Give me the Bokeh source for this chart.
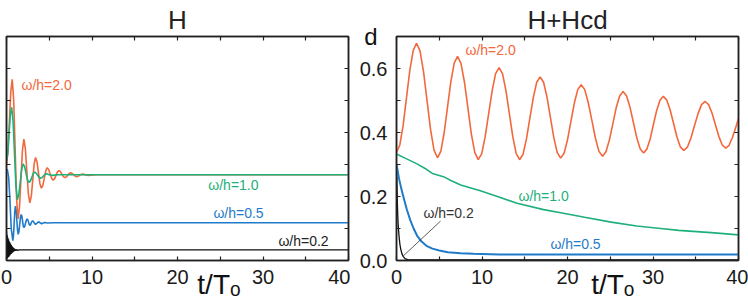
from bokeh.plotting import figure
from bokeh.layouts import row
from bokeh.models import Range1d, LinearAxis, FixedTicker, PrintfTickFormatter, Label
from bokeh.embed import file_html
from bokeh.resources import INLINE

# ---------------- data ----------------
# Left panel "H"
h20_t = [0, 0.17, 0.335, 0.50, 0.67, 0.84, 1.01, 1.18, 1.35, 1.52, 1.69, 1.86, 2.03, 2.205, 2.38, 2.555,
         2.73, 2.9, 3.07, 3.23, 3.4, 3.57, 3.74, 3.91, 4.08, 4.25, 4.43, 4.6, 4.77, 4.94, 5.11, 5.28,
         5.45, 5.62, 5.79, 5.96, 6.13, 6.3, 6.48, 6.65, 6.82, 6.99, 7.16, 7.33, 7.5, 7.68, 7.85, 8.03,
         8.2, 8.37, 8.54, 8.71, 8.88, 9.56, 10.5, 40]
h20_v = [0.300, 0.339, 0.433, 0.527, 0.566, 0.502, 0.348, 0.194, 0.130, 0.166, 0.255, 0.343, 0.379,
         0.350, 0.279, 0.208, 0.180, 0.201, 0.251, 0.301, 0.322, 0.308, 0.274, 0.240, 0.226, 0.235,
         0.258, 0.281, 0.290, 0.284, 0.270, 0.257, 0.251, 0.255, 0.266, 0.277, 0.281, 0.278, 0.270,
         0.262, 0.259, 0.261, 0.266, 0.272, 0.274, 0.272, 0.268, 0.264, 0.262, 0.263, 0.266, 0.269,
         0.270, 0.266, 0.268, 0.268]

h10_t = [0, 0.15, 0.30, 0.45, 0.60, 0.77, 0.935, 1.10, 1.27, 1.44, 1.61, 1.78, 1.95, 2.12, 2.285, 2.45,
         2.62, 2.79, 2.96, 3.13, 3.30, 3.47, 3.64, 3.81, 3.98, 4.15, 4.32, 4.49, 4.66, 5.0, 5.35, 6.0, 40]
h10_v = [0.310, 0.335, 0.396, 0.456, 0.479, 0.436, 0.335, 0.233, 0.190, 0.206, 0.246, 0.286, 0.302,
         0.293, 0.273, 0.252, 0.244, 0.248, 0.260, 0.272, 0.276, 0.273, 0.2665, 0.260, 0.257, 0.259,
         0.264, 0.269, 0.271, 0.268, 0.266, 0.268, 0.268]

h05_t = [0, 0.1, 0.25, 0.4, 0.55, 0.74, 0.8175, 0.895, 0.9725, 1.05, 1.13, 1.21, 1.29, 1.37, 1.4575,
         1.545, 1.6325, 1.72, 1.80, 1.875, 1.95, 2.03, 2.13, 2.225, 2.32, 2.42, 2.50, 2.575, 2.65, 2.73,
         2.81, 2.89, 2.97, 3.05, 3.14, 3.225, 3.31, 3.4, 3.57, 3.75, 3.92, 4.1, 4.45, 4.8, 5.5, 40]
h05_v = [0.282, 0.285, 0.260, 0.190, 0.100, 0.062, 0.078, 0.116, 0.154, 0.170, 0.157, 0.126, 0.095,
         0.082, 0.091, 0.113, 0.135, 0.144, 0.138, 0.1235, 0.109, 0.103, 0.107, 0.1165, 0.126, 0.130,
         0.127, 0.120, 0.113, 0.110, 0.112, 0.117, 0.122, 0.124, 0.122, 0.1185, 0.115, 0.113, 0.117,
         0.121, 0.118, 0.115, 0.119, 0.117, 0.118, 0.118]

h02_t = [0.00, 0.04, 0.08, 0.12, 0.16, 0.20, 0.24, 0.28, 0.32, 0.36, 0.40, 0.44, 0.48, 0.52, 0.56,
         0.60, 0.64, 0.68, 0.72, 0.76, 0.80, 0.84, 0.88, 0.92, 0.96, 1.00, 1.04, 1.08, 1.15, 1.25, 1.5, 40]
h02_v = [0.090, 0.005, 0.080, 0.008, 0.072, 0.010, 0.066, 0.012, 0.060, 0.015, 0.056, 0.018, 0.052,
         0.020, 0.048, 0.022, 0.045, 0.024, 0.042, 0.026, 0.040, 0.028, 0.038, 0.029, 0.036, 0.030,
         0.035, 0.031, 0.034, 0.032, 0.033, 0.033]

# Right panel "H+Hcd"
c20_t = [0, 0.39, 0.78, 1.17, 1.56, 1.95, 2.34, 2.75, 3.16, 3.57, 3.98, 4.39, 4.8, 5.19, 5.58, 5.97,
         6.36, 6.75, 7.14, 7.54, 7.95, 8.35, 8.75, 9.16, 9.56, 9.97, 10.37, 10.78, 11.19, 11.59, 12.0,
         12.4, 12.8, 13.2, 13.6, 14.0, 14.4, 14.8, 15.2, 15.6, 16.0, 16.4, 16.8, 17.2, 17.6, 18.0, 18.4,
         18.8, 19.2, 19.6, 20.0, 20.4, 20.8, 21.2, 21.6, 22.02, 22.43, 22.85, 23.27, 23.68, 24.1, 24.5,
         24.9, 25.3, 25.7, 26.1, 26.5, 26.9, 27.3, 27.7, 28.1, 28.5, 28.9, 29.28, 29.67, 30.05, 30.43,
         30.82, 31.2, 31.6, 32.0, 32.4, 32.8, 33.2, 33.6, 34.02, 34.43, 34.85, 35.27, 35.68, 36.1, 36.5,
         36.9, 37.3, 37.7, 38.1, 38.5, 38.9, 39.3, 39.7, 40.0]
c20_v = [0.338, 0.361, 0.423, 0.509, 0.594, 0.656, 0.679, 0.655, 0.590, 0.500, 0.410, 0.345, 0.321,
         0.342, 0.400, 0.480, 0.559, 0.617, 0.638, 0.616, 0.557, 0.477, 0.396, 0.337, 0.315, 0.334,
         0.387, 0.459, 0.531, 0.584, 0.603, 0.584, 0.531, 0.459, 0.387, 0.334, 0.315, 0.332, 0.380,
         0.445, 0.509, 0.557, 0.574, 0.557, 0.511, 0.447, 0.384, 0.337, 0.320, 0.335, 0.377, 0.435,
         0.492, 0.534, 0.549, 0.534, 0.493, 0.438, 0.382, 0.341, 0.326, 0.340, 0.377, 0.427, 0.478,
         0.514, 0.528, 0.515, 0.480, 0.432, 0.384, 0.349, 0.336, 0.348, 0.380, 0.425, 0.469, 0.501,
         0.513, 0.502, 0.471, 0.429, 0.386, 0.355, 0.344, 0.354, 0.382, 0.421, 0.459, 0.487, 0.497,
         0.487, 0.461, 0.424, 0.388, 0.361, 0.351, 0.360, 0.385, 0.418, 0.444]

c10_t = [0, 1, 2.4, 3.5, 4.2, 5.5, 6.3, 7.5, 8.5, 9.8, 11.8, 14.1, 17.2, 19.2, 22, 25.1, 28.1, 30.9,
         33, 36.8, 40]
c10_v = [0.333, 0.320, 0.302, 0.285, 0.272, 0.262, 0.251, 0.236, 0.228, 0.218, 0.200, 0.179, 0.159,
         0.149, 0.135, 0.120, 0.108, 0.100, 0.094, 0.087, 0.080]

c05_t = [0, 0.3, 0.6, 0.9, 1.2, 1.6, 2.0, 2.4, 2.9, 3.5, 4.2, 5.0, 6.0, 7.5, 9.0, 12, 40]
c05_v = [0.302, 0.255, 0.220, 0.190, 0.160, 0.127, 0.100, 0.078, 0.060, 0.046, 0.037, 0.031, 0.026,
         0.023, 0.021, 0.019, 0.019]

c02_t = [0, 0.05, 0.1, 0.15, 0.2, 0.3, 0.4, 0.5, 0.65, 0.8, 1.0, 1.3, 1.8, 40]
c02_v = [0.30, 0.24, 0.18, 0.14, 0.11, 0.075, 0.05, 0.035, 0.02, 0.012, 0.006, 0.003, 0.002, 0.002]

# ticks / axis texts
x_major_ticks = [0, 10, 20, 30, 40]
x_minor_ticks = [5, 15, 25, 35]
y_major_ticks = [0.0, 0.2, 0.4, 0.6]
y_minor_ticks = [0.1, 0.3, 0.5]
y_name = "d"
y_name_at = 0.7
x_name = "t/T\u2092"
panel_titles = ["H", "H+Hcd"]

# ---------------- styling ----------------
FONT = "Liberation Sans"
ORANGE = "#F2683C"
GREEN = "#1DB07A"
BLUE = "#1F7BC9"
BLACK = "#111111"
FRAME = "#222222"
H = 305
TOP = 32
FRAME_H = 228


def style_axis(ax, show_labels, fmt=None):
    ax.axis_line_color = FRAME
    ax.axis_line_width = 1.5
    ax.major_tick_in = 4
    ax.major_tick_out = 0
    ax.minor_tick_in = 4
    ax.minor_tick_out = 0
    ax.major_tick_line_color = FRAME
    ax.minor_tick_line_color = FRAME
    ax.major_tick_line_width = 1.2
    ax.minor_tick_line_width = 1.2
    if fmt is not None:
        ax.formatter = fmt
    if show_labels:
        ax.major_label_text_font = FONT
        ax.major_label_text_font_size = "20px"
        ax.major_label_text_color = "#1a1a1a"
        ax.major_label_standoff = 9
    else:
        ax.major_label_standoff = 0


def labelled_ticker(major, minor):
    return FixedTicker(ticks=major, minor_ticks=minor)


def bare_ticker(major, minor):
    # all tick marks as minor ticks -> marks only, no tick texts
    return FixedTicker(ticks=[], minor_ticks=sorted(major + minor))


def name_axis(at, text, size, standoff):
    # a tick-less axis that only carries one text (the axis name)
    ax = LinearAxis(ticker=FixedTicker(ticks=[at], minor_ticks=[]),
                    major_label_overrides={at: text})
    ax.axis_line_color = None
    ax.major_tick_line_color = None
    ax.minor_tick_line_color = None
    ax.major_tick_in = 0
    ax.major_tick_out = 0
    ax.major_label_text_font = FONT
    ax.major_label_text_font_size = size
    ax.major_label_text_color = "#111111"
    ax.major_label_standoff = standoff
    return ax


def make_fig(width, left_border, right_border, ylabels, title, xname_at):
    p = figure(width=width, height=H, x_range=Range1d(0, 40), y_range=Range1d(0, 0.7),
               output_backend="svg", toolbar_location=None, title=title,
               min_border_left=left_border, min_border_right=right_border, min_border_top=TOP,
               min_border_bottom=H - TOP - FRAME_H)
    p.title.align = "center"
    p.title.text_font = FONT
    p.title.text_font_size = "26px"
    p.title.text_font_style = "normal"
    p.title.text_color = "#222222"
    p.title.standoff = 4
    p.grid.visible = False
    p.outline_line_color = FRAME
    p.outline_line_width = 1.5
    p.background_fill_color = "white"
    p.border_fill_color = "white"
    p.xaxis[0].ticker = labelled_ticker(x_major_ticks, x_minor_ticks)
    style_axis(p.xaxis[0], True)
    if ylabels:
        p.yaxis[0].ticker = labelled_ticker(y_major_ticks, y_minor_ticks)
        style_axis(p.yaxis[0], True, PrintfTickFormatter(format="%.1f"))
    else:
        p.yaxis[0].ticker = bare_ticker(y_major_ticks, y_minor_ticks)
        style_axis(p.yaxis[0], False)
    top = LinearAxis(ticker=bare_ticker(x_major_ticks, x_minor_ticks))
    style_axis(top, False)
    p.add_layout(top, "above")
    right = LinearAxis(ticker=bare_ticker(y_major_ticks, y_minor_ticks))
    style_axis(right, False)
    p.add_layout(right, "right")
    p.add_layout(name_axis(xname_at, x_name, "28px", -18), "below")
    if ylabels:
        p.add_layout(name_axis(y_name_at, y_name, "24px", -21), "left")
    return p


def lab(p, x, y, text, color, size="14px", align="left", baseline="middle"):
    p.add_layout(Label(x=x, y=y, text=text, text_font=FONT, text_font_size=size,
                       text_color=color, text_align=align, text_baseline=baseline))


# ---------------- left panel ----------------
p1 = make_fig(350, 6, 2, False, panel_titles[0], 24.85)
p1.line(h02_t, h02_v, color=BLACK, line_width=1.3)
p1.line(h05_t, h05_v, color=BLUE, line_width=1.6)
p1.line(h20_t, h20_v, color=ORANGE, line_width=1.6)
p1.line(h10_t, h10_v, color=GREEN, line_width=1.6)
lab(p1, 1.75, 0.55, "ω/h=2.0", ORANGE)
lab(p1, 23.6, 0.236, "ω/h=1.0", GREEN)
lab(p1, 24.2, 0.147, "ω/h=0.5", BLUE)
lab(p1, 31.8, 0.061, "ω/h=0.2", "#222222")

# ---------------- right panel ----------------
p2 = make_fig(398, 46, 10, True, panel_titles[1], 25.3)
p2.line(c02_t, c02_v, color=BLACK, line_width=1.3)
p2.line(c05_t, c05_v, color=BLUE, line_width=2.0)
p2.line(c10_t, c10_v, color=GREEN, line_width=1.6)
p2.line(c20_t, c20_v, color=ORANGE, line_width=1.6)
p2.line([5.15, 0.82], [0.123, 0.015], color="#333333", line_width=0.8)
lab(p2, 8.07, 0.657, "ω/h=2.0", ORANGE)
lab(p2, 14.27, 0.203, "ω/h=1.0", GREEN)
lab(p2, 18.0, 0.052, "ω/h=0.5", BLUE)
lab(p2, 3.16, 0.147, "ω/h=0.2", "#333333")

layout = row(p1, p2, spacing=0)
open("out.html", "w").write(file_html(layout, INLINE))
